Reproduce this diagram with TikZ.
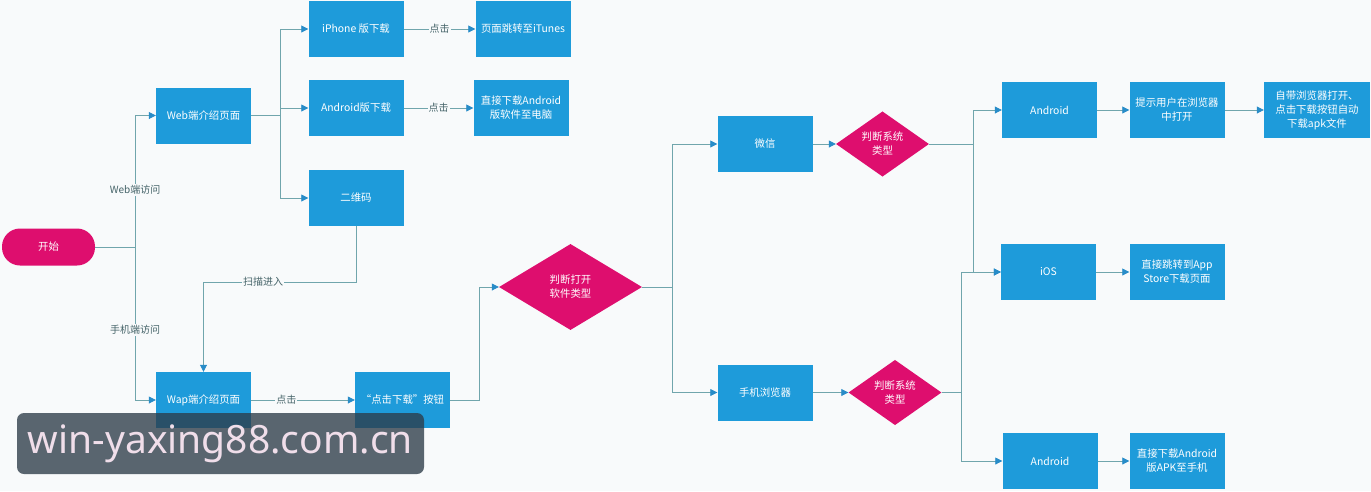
\documentclass[tikz,border=0pt]{standalone}
\usepackage{fontspec}
\setmainfont{Noto Sans CJK SC}
\newfontfamily\wmfont{Noto Sans}
\usetikzlibrary{arrows.meta,shapes.geometric}
\definecolor{bg}{RGB}{248,250,251}
\definecolor{boxblue}{RGB}{30,155,218}
\definecolor{mag}{RGB}{222,14,110}
\definecolor{linec}{RGB}{112,165,172}
\definecolor{tipc}{RGB}{40,140,200}
\definecolor{lblc}{RGB}{70,100,105}
\definecolor{wmbg}{RGB}{45,60,72}
\definecolor{wmtext}{RGB}{240,222,234}
\begin{document}
\begin{tikzpicture}[x=1pt,y=-1pt,
  box/.style={fill=boxblue, text=white, minimum width=95pt, minimum height=56pt, inner sep=2pt, align=center, font=\fontsize{10.4}{14}\selectfont},
  dia/.style={diamond, fill=mag, text=white, inner sep=0pt, align=center, font=\fontsize{10.4}{14}\selectfont},
  conn/.style={draw=linec, line width=0.8pt, -{Triangle[length=7pt,width=7pt,color=tipc]}},
  plain/.style={draw=linec, line width=0.8pt},
  lbl/.style={fill=bg, text=lblc, inner sep=1pt, font=\fontsize{10}{11}\selectfont}
]
\fill[bg] (0,0) rectangle (1371,491);
\useasboundingbox (0,0) rectangle (1371,491);

% nodes
\node[fill=mag, text=white, rounded corners=18pt, minimum width=93pt, minimum height=37pt, font=\fontsize{10.4}{12}\selectfont] (start) at (48.5,247) {开始};
\node[box] (web) at (203.5,115.5) {Web端介绍页面};
\node[box] (iphone) at (356,29) {iPhone 版下载};
\node[box] (andv) at (356,108) {Android版下载};
\node[box] (qr) at (356,198) {二维码};
\node[box] (itunes) at (523,29) {页面跳转至iTunes};
\node[box] (andpc) at (521,108) {直接下载Android\\版软件至电脑};
\node[box] (wap) at (203.5,400) {Wap端介绍页面};
\node[box] (btn) at (402.5,400) {“点击下载”按钮};
\node[dia, minimum width=143pt, minimum height=86pt] (d1) at (570.5,287) {判断打开\\软件类型};
\node[box] (wx) at (765,144) {微信};
\node[box] (mb) at (765,392.5) {手机浏览器};
\node[dia, minimum width=93pt, minimum height=56pt] (d2) at (882.5,144) {判断系统\\类型};
\node[dia, minimum width=93pt, minimum height=57pt] (d3) at (895,392.5) {判断系统\\类型};
\node[box] (and1) at (1049.5,110) {Android};
\node[box] (hint) at (1177,110) {提示用户在浏览器\\中打开};
\node[box, minimum width=106pt] (self) at (1317,110) {自带浏览器打开、\\点击下载按钮自动\\下载apk文件};
\node[box] (ios) at (1048.5,272) {iOS};
\node[box] (appst) at (1177,272) {直接跳转到App\\Store下载页面};
\node[box] (and2) at (1050,461) {Android};
\node[box] (apk) at (1177,461) {直接下载Android\\版APK至手机};

% junctions
\coordinate (j1) at (135,247);
\coordinate (j2) at (280,115.5);
\coordinate (q1) at (356,282);
\coordinate (b1) at (479.5,400);
\coordinate (j3) at (672,287);
\coordinate (j4) at (973,144);
\coordinate (j5) at (961,392.5);

% connectors
\draw[plain] (start) -- (j1);
\draw[conn] (j1) |- (web);
\draw[conn] (j1) |- (wap);
\node[lbl] (lweb) at (135,190) {Web端访问};
\node[lbl] (lmob) at (135,330) {手机端访问};

\draw[plain] (web) -- (j2);
\draw[conn] (j2) |- (iphone);
\draw[conn] (j2) |- (andv);
\draw[conn] (j2) |- (qr);
\draw[conn] (iphone) -- node[lbl] (l1) {点击} (itunes);
\draw[conn] (andv) -- node[lbl] (l2) {点击} (andpc);

\draw[conn] (qr) -- (q1) -| (wap);
\node[lbl] (lscan) at (263,282) {扫描进入};

\draw[conn] (wap) -- node[lbl, pos=0.34] (l3) {点击} (btn);
\draw[conn] (btn) -- (b1) |- (d1);

\draw[plain] (d1) -- (j3);
\draw[conn] (j3) |- (wx);
\draw[conn] (j3) |- (mb);
\draw[conn] (wx) -- (d2);
\draw[conn] (mb) -- (d3);

\draw[plain] (d2) -- (j4);
\draw[conn] (j4) |- (and1);
\draw[conn] (j4) |- (ios);
\draw[plain] (d3) -- (j5);
\draw[conn] (j5) |- (ios);
\draw[conn] (j5) |- (and2);

\draw[conn] (and1) -- (hint);
\draw[conn] (hint) -- (self);
\draw[conn] (ios) -- (appst);
\draw[conn] (and2) -- (apk);

% watermark
\node[fill=wmbg, fill opacity=0.78, text opacity=1, text=wmtext, rounded corners=7pt, minimum width=407pt, minimum height=61pt, inner sep=0pt, font=\wmfont\fontsize{39}{39}\selectfont] (wm) at (220.5,443.5) {win-yaxing88.com.cn};
\end{tikzpicture}
\end{document}
